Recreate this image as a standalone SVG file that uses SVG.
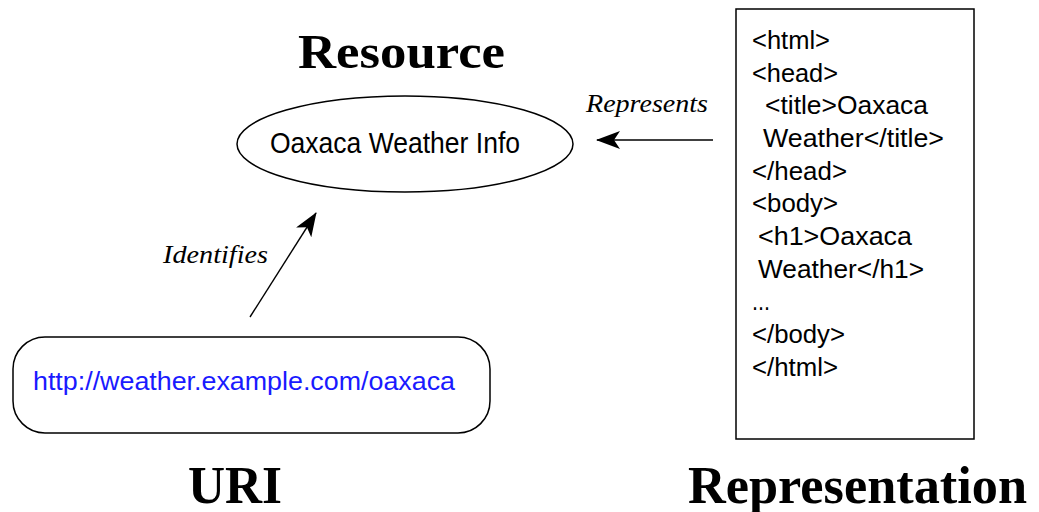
<svg xmlns="http://www.w3.org/2000/svg" width="1039" height="512" viewBox="0 0 1039 512">
  <style>
    .title { font-family: "Liberation Serif", "Times New Roman", serif; font-weight: bold; font-size: 52px; fill: #000; }
    .label { font-family: "Liberation Serif", "Times New Roman", serif; font-style: italic; font-size: 25px; fill: #000; }
    .sans { font-family: "Liberation Sans", Arial, sans-serif; font-size: 25px; fill: #000; }
    .uri { font-family: "Liberation Sans", Arial, sans-serif; font-size: 26px; fill: #1a1aff; }
    .shape { fill: #fff; stroke: #000; stroke-width: 1.5; }
    .edge { fill: none; stroke: #000; stroke-width: 1.4; }
  </style>
  <defs>
    <marker id="arrow" viewBox="0 0 24 18" refX="23" refY="9" markerWidth="24" markerHeight="18" markerUnits="userSpaceOnUse" orient="auto">
      <path d="M0,0 L24,9 L0,18 L6,9 Z" fill="#000"/>
    </marker>
  </defs>
  <rect width="1039" height="512" fill="#fff"/>

  <!-- Resource -->
  <g id="resource">
    <text class="title" x="298" y="68" textLength="207" lengthAdjust="spacingAndGlyphs" style="font-size:49px">Resource</text>
    <ellipse class="shape" cx="405" cy="144" rx="168" ry="48"/>
    <text class="sans" x="270" y="153" textLength="250" lengthAdjust="spacingAndGlyphs" style="font-size:30px">Oaxaca Weather Info</text>
  </g>

  <!-- URI -->
  <g id="uri">
    <rect class="shape" x="13" y="337" width="477" height="96" rx="32" ry="32"/>
    <text class="uri" x="33" y="390" textLength="422" lengthAdjust="spacingAndGlyphs">http://weather.example.com/oaxaca</text>
    <text class="title" x="188" y="503" textLength="94" lengthAdjust="spacingAndGlyphs">URI</text>
  </g>

  <!-- Representation -->
  <g id="representation">
    <rect class="shape" x="736" y="9" width="238" height="430"/>
    <g class="sans">
      <text x="752" y="49" textLength="78" lengthAdjust="spacingAndGlyphs">&lt;html&gt;</text>
      <text x="752" y="82" textLength="86" lengthAdjust="spacingAndGlyphs">&lt;head&gt;</text>
      <text x="765" y="114" textLength="163" lengthAdjust="spacingAndGlyphs">&lt;title&gt;Oaxaca</text>
      <text x="763" y="147" textLength="181" lengthAdjust="spacingAndGlyphs">Weather&lt;/title&gt;</text>
      <text x="752" y="180" textLength="95" lengthAdjust="spacingAndGlyphs">&lt;/head&gt;</text>
      <text x="752" y="212" textLength="86" lengthAdjust="spacingAndGlyphs">&lt;body&gt;</text>
      <text x="758" y="245" textLength="154" lengthAdjust="spacingAndGlyphs">&lt;h1&gt;Oaxaca</text>
      <text x="758" y="278" textLength="166" lengthAdjust="spacingAndGlyphs">Weather&lt;/h1&gt;</text>
      <text x="752" y="310" textLength="18" lengthAdjust="spacingAndGlyphs">...</text>
      <text x="752" y="343" textLength="93" lengthAdjust="spacingAndGlyphs">&lt;/body&gt;</text>
      <text x="752" y="376" textLength="86" lengthAdjust="spacingAndGlyphs">&lt;/html&gt;</text>
    </g>
    <text class="title" x="688" y="503" textLength="339" lengthAdjust="spacingAndGlyphs">Representation</text>
  </g>

  <!-- Connectors -->
  <g id="connectors">
    <line class="edge" x1="713" y1="140" x2="597" y2="140" marker-end="url(#arrow)"/>
    <text class="label" x="586" y="112" textLength="122" lengthAdjust="spacingAndGlyphs">Represents</text>
    <line class="edge" x1="250" y1="317" x2="316" y2="213" marker-end="url(#arrow)"/>
    <text class="label" x="163" y="263" textLength="105" lengthAdjust="spacingAndGlyphs">Identifies</text>
  </g>
</svg>
